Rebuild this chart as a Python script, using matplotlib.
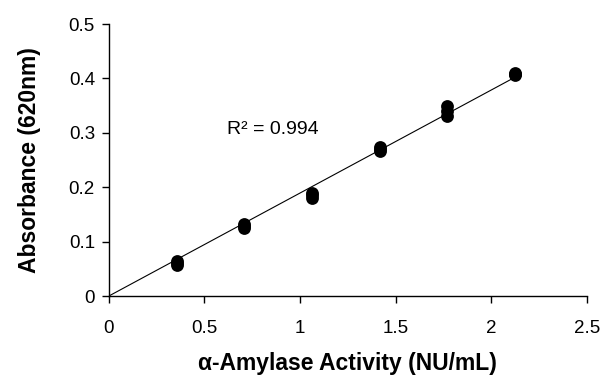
import numpy as np
import matplotlib
matplotlib.use("Agg")
import matplotlib.pyplot as plt

plt.rcParams['font.family'] = ['Liberation Sans', 'DejaVu Sans']

# Data (replicate measurements at each activity level)
activity = [0.354, 0.354, 0.354,
            0.708, 0.708, 0.708,
            1.062, 1.062, 1.062,
            1.416, 1.416, 1.416,
            1.770, 1.770, 1.770,
            2.124, 2.124, 2.124]
absorbance = [0.057, 0.061, 0.065,
              0.125, 0.129, 0.132,
              0.181, 0.185, 0.189,
              0.266, 0.270, 0.274,
              0.330, 0.340, 0.350,
              0.406, 0.408, 0.410]
x_ticks = [0, 0.5, 1, 1.5, 2, 2.5]
y_ticks = [0, 0.1, 0.2, 0.3, 0.4, 0.5]
x_tick_labels = ['0', '0.5', '1', '1.5', '2', '2.5']
y_tick_labels = ['0', '0.1', '0.2', '0.3', '0.4', '0.5']
r2_text = "R² = 0.994"

fig = plt.figure(figsize=(6.08, 3.81), dpi=100)
ax = fig.add_axes([0.179, 0.223, 0.7865, 0.714])

ax.scatter(activity, absorbance, s=85, color='black', zorder=3, linewidths=0)

# Linear trendline through the origin
xa = np.array(activity)
ya = np.array(absorbance)
slope = np.sum(xa * ya) / np.sum(xa * xa)
xl = np.array([0, xa.max()])
ax.plot(xl, slope * xl, color='black', lw=0.8, zorder=2)

ax.set_xlim(0, 2.5)
ax.set_ylim(0, 0.5)
ax.set_xticks(x_ticks)
ax.set_xticklabels(x_tick_labels)
ax.set_yticks(y_ticks)
ax.set_yticklabels(y_tick_labels)
ax.spines['top'].set_visible(False)
ax.spines['right'].set_visible(False)
for s in ['left', 'bottom']:
    ax.spines[s].set_linewidth(1.0)
ax.tick_params(axis='both', direction='out', length=5, width=1.0, labelsize=13.5,
               colors='black')
ax.tick_params(axis='x', pad=12)
ax.tick_params(axis='y', pad=5)

ax.text(0.62, 0.298, r2_text, fontsize=14)

ax.set_xlabel("α-Amylase Activity (NU/mL)", fontsize=16.5, fontweight='bold', labelpad=11)
ax.set_ylabel("Absorbance (620nm)", fontsize=16.5, fontweight='bold', labelpad=20)

fig.savefig("out.png", dpi=100)
